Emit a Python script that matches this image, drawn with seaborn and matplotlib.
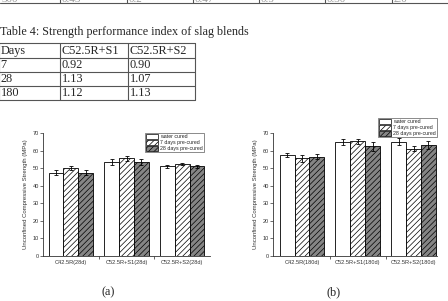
import numpy as np
import matplotlib
import matplotlib.pyplot as plt
import pandas as pd
import seaborn as sns
from matplotlib.patches import Patch

# ---- data ----
top_row = ['300', '0.43', '0.2', '0.47', '0.5', '0.30', '2.0']
table_caption = 'Table 4: Strength performance index of slag blends'
table_header = ['Days', 'C52.5R+S1', 'C52.5R+S2']
table_days = ['7', '28', '180']
spi_s1 = ['0.92', '1.13', '1.12']
spi_s2 = ['0.90', '1.07', '1.13']

curing = ['water cured', '7 days pre-cured', '28 days pre-cured']
groups_28 = ['C42.5R(28d)', 'C52.5R+S1(28d)', 'C52.5R+S2(28d)']
groups_180 = ['C42.5R(180d)', 'C52.5R+S1(180d)', 'C52.5R+S2(180d)']
# rows = curing, cols = group
ucs_28 = [[47.5, 53.5, 51.0],
          [50.0, 55.5, 52.2],
          [47.5, 53.5, 51.0]]
err_28 = [[1.4, 1.5, 1.0],
          [1.0, 1.2, 0.6],
          [1.4, 1.5, 1.0]]
ucs_180 = [[57.5, 64.8, 65.0],
           [55.5, 65.3, 61.0],
           [56.5, 62.5, 63.0]]
err_180 = [[1.4, 1.7, 2.0],
           [2.0, 1.5, 1.5],
           [1.5, 2.6, 2.3]]

fills = ['white', 'white', '#858585']
hatches = ['', '//////', '//////']

W, H = 448, 301
sns.set_style('white')
plt.rcParams['font.family'] = ['Liberation Sans', 'DejaVu Sans']
plt.rcParams['hatch.linewidth'] = 0.5
fig = plt.figure(figsize=(W / 100, H / 100), dpi=100)

# background axes in pixel coords for the document text
bg = fig.add_axes([0, 0, 1, 1])
bg.set_xlim(0, W)
bg.set_ylim(H, 0)
bg.axis('off')
serif = ['Liberation Serif', 'DejaVu Serif']
lc = '#555555'

# partial table row at the very top (cut off by the page edge)
bg.plot([0, W], [3, 3], color=lc, lw=0.8)
top_cols = [0, 60, 127, 193, 259, 325, 392]
for i, x in enumerate(top_cols):
    if i > 0:
        bg.plot([x, x], [-1, 3], color=lc, lw=0.8)
    bg.text(x + 2, 2.2, top_row[i], family=serif, fontsize=8, color='#999999',
            va='baseline', ha='left', clip_on=True)

bg.text(0, 31.5, table_caption, family=serif, fontsize=8.7, va='center', ha='left')

rows_y = [43, 57.5, 71.5, 85.5, 100]
cols_x = [-1, 60, 128, 195]
for y in rows_y:
    bg.plot([cols_x[0], cols_x[-1]], [y, y], color=lc, lw=0.8)
for x in cols_x:
    bg.plot([x, x], [rows_y[0], rows_y[-1]], color=lc, lw=0.8)
cells = [table_header] + [[d, a, b] for d, a, b in zip(table_days, spi_s1, spi_s2)]
for r, row in enumerate(cells):
    yc = (rows_y[r] + rows_y[r + 1]) / 2 + 0.5
    for c, txt in enumerate(row):
        bg.text(cols_x[c] + 1.5, yc, txt, family=serif, fontsize=8.8, va='center', ha='left')

bg.text(108, 292, '(a)', family=serif, fontsize=8.8, ha='center', va='center')
bg.text(334, 292, '(b)', family=serif, fontsize=8.8, ha='center', va='center')


def panel(rect, groups, vals, errs, xlim, leg_anchor):
    ax = fig.add_axes([rect[0] / W, 1 - rect[3] / H, (rect[2] - rect[0]) / W, (rect[3] - rect[1]) / H])
    df = pd.DataFrame({
        'group': np.repeat([groups], 3, axis=0).ravel(),
        'curing': np.repeat(curing, 3),
        'ucs': np.ravel(vals),
    })
    sns.barplot(data=df, x='group', y='ucs', hue='curing', hue_order=curing,
                palette=fills, edgecolor='black', linewidth=0.6, width=0.8,
                errorbar=None, ax=ax, legend=False)
    bars = list(ax.containers)
    for i, cont in enumerate(bars):
        for j, p in enumerate(cont.patches):
            p.set_hatch(hatches[i])
            ax.errorbar(p.get_x() + p.get_width() / 2, p.get_height(), yerr=errs[i][j],
                        fmt='none', ecolor='black', elinewidth=0.6, capsize=1.5, capthick=0.6)
    ax.set_ylim(0, 70)
    ax.set_xlim(*xlim)
    ax.set_yticks(range(0, 71, 10))
    ax.set_xlabel('')
    ax.set_ylabel('Unconfined Compressive Strength (MPa)', fontsize=4.3, color='#333333', labelpad=3)
    for s in ['top', 'right']:
        ax.spines[s].set_visible(False)
    for s in ['left', 'bottom']:
        ax.spines[s].set_color('#333333')
        ax.spines[s].set_linewidth(0.6)
    ax.tick_params(axis='y', labelsize=4, colors='#333333', length=2, width=0.5, pad=1, left=True)
    ax.tick_params(axis='x', labelsize=4.1, colors='#333333', length=0, pad=3)
    ax.set_xticks([0.5, 1.5], minor=True)
    ax.tick_params(axis='x', which='minor', length=2, width=0.5, bottom=True)
    handles = [Patch(facecolor=fills[i], edgecolor='black', hatch=hatches[i], lw=0.5) for i in range(3)]
    leg = ax.legend(handles, curing, loc='upper right', bbox_to_anchor=(leg_anchor[0] / W, 1 - leg_anchor[1] / H),
                    bbox_transform=fig.transFigure, fontsize=3.8, frameon=True, fancybox=False,
                    borderpad=0.15, labelspacing=0.15, handlelength=2.4, handleheight=1.1,
                    handletextpad=0.4, borderaxespad=0)
    leg.get_frame().set_edgecolor('#333333')
    leg.get_frame().set_linewidth(0.5)
    return ax


panel((43, 133, 210, 256), groups_28, ucs_28, err_28, (-0.5, 2.5), (204, 133))
panel((273, 133, 437, 256), groups_180, ucs_180, err_180, (-0.52, 2.42), (437, 118))

fig.savefig('out.png', dpi=100)
